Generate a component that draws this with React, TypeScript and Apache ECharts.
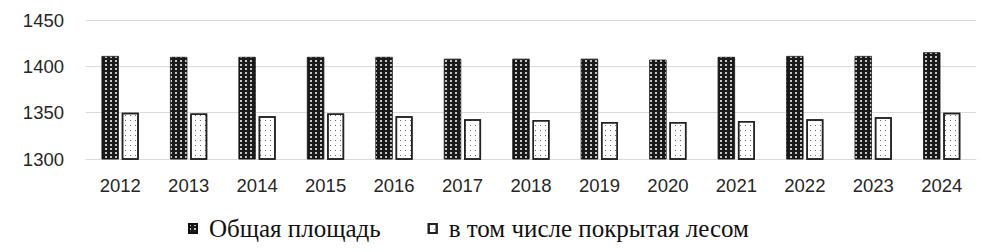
import React, { useEffect, useRef } from "react";
import * as echarts from "echarts";

const years = ["2012", "2013", "2014", "2015", "2016", "2017", "2018", "2019", "2020", "2021", "2022", "2023", "2024"];
const totalArea = [1411, 1410, 1410, 1410, 1410, 1408, 1408, 1408, 1407, 1410, 1411, 1411, 1415];
const forestArea = [1350, 1349, 1346, 1349, 1346, 1343, 1342, 1340, 1340, 1341, 1343, 1345, 1350];
const seriesNames = ["Общая площадь", "в том числе покрытая лесом"];

export default function App() {
  const ref = useRef<HTMLDivElement>(null);
  useEffect(() => {
    if (!ref.current) return;
    const chart = echarts.init(ref.current, null, { renderer: "svg" });
    chart.setOption({
      animation: false,
      aria: { enabled: true, decal: { show: true } },
      grid: { left: 86, right: 13, top: 20, bottom: 93, containLabel: false },
      legend: {
        left: 183,
        top: 211,
        itemWidth: 8,
        itemHeight: 9,
        itemGap: 47,
        icon: "rect",
        textStyle: {
          fontFamily: "'Liberation Serif', 'Times New Roman', serif",
          fontSize: 25,
          color: "#111",
          padding: [0, 0, 0, 7],
        },
        data: seriesNames,
      },
      xAxis: {
        type: "category",
        data: years,
        axisLine: { show: true, lineStyle: { color: "#d9d9d9", width: 1 } },
        axisTick: { show: false },
        axisLabel: {
          fontFamily: "'Liberation Sans', Arial, sans-serif",
          fontSize: 18.5,
          color: "#262626",
          margin: 17,
        },
      },
      yAxis: {
        type: "value",
        min: 1300,
        max: 1450,
        interval: 50,
        axisLine: { show: false },
        axisTick: { show: false },
        splitLine: { lineStyle: { color: "#d9d9d9", width: 1 } },
        axisLabel: {
          fontFamily: "'Liberation Sans', Arial, sans-serif",
          fontSize: 18.5,
          color: "#262626",
          margin: 22,
          formatter: (v: number) => String(v),
        },
      },
      series: [
        {
          name: seriesNames[0],
          type: "bar",
          data: totalArea,
          barWidth: 17,
          barGap: "18%",
          itemStyle: {
            color: "#1a1a1a",
            borderColor: "#111",
            borderWidth: 0.5,
            decal: {
              symbol: "rect",
              symbolSize: 1,
              color: "rgba(255,255,255,0.75)",
              dashArrayX: [1.5, 2.5],
              dashArrayY: [1.5, 2],
              rotation: 0,
            },
          },
        },
        {
          name: seriesNames[1],
          type: "bar",
          data: forestArea,
          barWidth: 17,
          itemStyle: {
            color: "#ffffff",
            borderColor: "#222",
            borderWidth: 1.5,
            decal: {
              symbol: "rect",
              symbolSize: 1,
              color: "rgba(0,0,0,0.6)",
              dashArrayX: [1, 4],
              dashArrayY: [1, 4],
              rotation: 0,
            },
          },
        },
      ],
    });
    return () => chart.dispose();
  }, []);
  return <div ref={ref} style={{ width: 989, height: 252, position: "absolute", left: 0, top: 0 }} />;
}
